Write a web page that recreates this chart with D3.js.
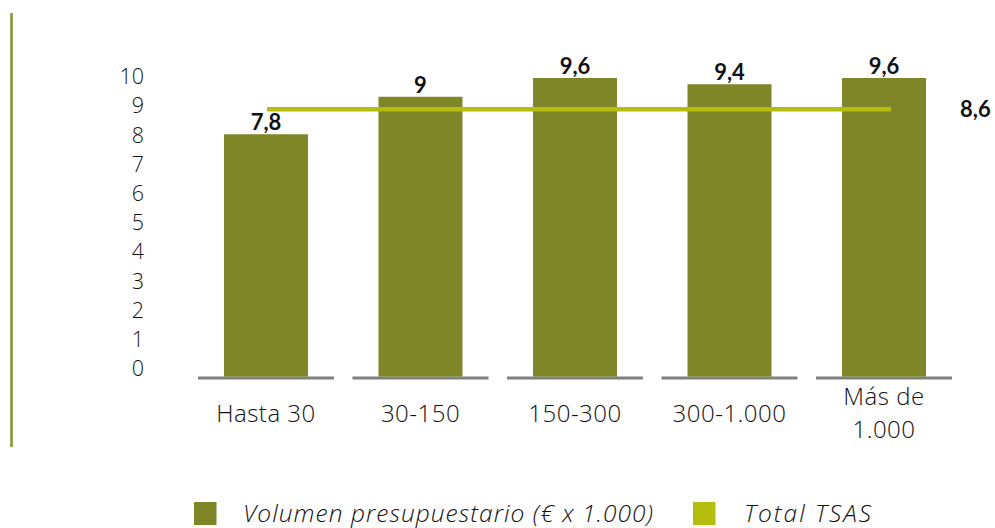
<!DOCTYPE html>
<html>
<head>
<meta charset="utf-8">
<script src="https://cdn.jsdelivr.net/npm/d3@7"></script>
<style>
  html, body { margin: 0; padding: 0; background: #ffffff; }
  svg { display: block; font-family: "Open Sans", Lato, sans-serif; }
</style>
</head>
<body>
<svg id="chart" width="995" height="528"></svg>
<script>
const categories = [["Hasta 30"], ["30-150"], ["150-300"], ["300-1.000"], ["Más de", "1.000"]];
const barValues = [7.8, 9, 9.6, 9.4, 9.6];
const barLabels = ["7,8", "9", "9,6", "9,4", "9,6"];
const totalValue = 8.6;
const totalLabel = "8,6";
const yTicks = [0, 1, 2, 3, 4, 5, 6, 7, 8, 9, 10];
const legendItems = ["Volumen presupuestario (€ x 1.000)", "Total TSAS"];

const barColor = "#7f8627";
const lineColor = "#b5bd0e";
const baseColor = "#808080";
const frameColor = "#8b9a3a";
const lightFont = "'Open Sans', Lato, sans-serif";
const boldFont = "Lato, 'Open Sans', sans-serif";
const textColor = "#111";

const svg = d3.select("#chart");
const keys = categories.map(c => c.join(" "));

const x = d3.scaleBand().domain(keys).range([198, 952]).paddingInner(0.12).paddingOuter(0);
const y = d3.scaleLinear().domain([0, 10]).range([378, 65.5]);
const yLabel = d3.scaleLinear().domain([0, 10]).range([368, 76]);
const barW = x.bandwidth() * 84 / 136;

// left decorative rule
svg.append("line")
  .attr("x1", 11.5).attr("x2", 11.5).attr("y1", 13).attr("y2", 447)
  .attr("stroke", frameColor).attr("stroke-width", 2.7);

// y tick labels
const yAxis = d3.axisLeft(yLabel).tickValues(yTicks).tickSize(0).tickPadding(0).tickFormat(d3.format("d"));
const gy = svg.append("g").attr("transform", "translate(144,0)").call(yAxis);
gy.select(".domain").remove();
gy.selectAll("text")
  .attr("font-family", lightFont).attr("font-weight", 300)
  .attr("font-size", 21.5).attr("fill", textColor).attr("dy", "0.36em");

// baseline segments
svg.append("g").selectAll("line").data(keys).join("line")
  .attr("x1", d => x(d)).attr("x2", d => x(d) + x.bandwidth())
  .attr("y1", y(0)).attr("y2", y(0))
  .attr("stroke", baseColor).attr("stroke-width", 2.8);

// bars
svg.append("g").selectAll("rect").data(barValues).join("rect")
  .attr("x", (d, i) => x(keys[i]) + x.bandwidth() / 2 - barW / 2)
  .attr("width", barW)
  .attr("y", d => y(d))
  .attr("height", d => y(0) - 1.4 - y(d))
  .attr("fill", barColor);

// total line
const firstC = x(keys[0]) + x.bandwidth() / 2;
const lastC = x(keys[keys.length - 1]) + x.bandwidth() / 2;
svg.append("line")
  .attr("x1", firstC + 1).attr("x2", lastC + 7)
  .attr("y1", y(totalValue)).attr("y2", y(totalValue))
  .attr("stroke", lineColor).attr("stroke-width", 4.7);

// bar value labels
svg.append("g").selectAll("text").data(barValues).join("text")
  .attr("x", (d, i) => x(keys[i]) + x.bandwidth() / 2)
  .attr("y", d => y(d) - 4)
  .attr("text-anchor", "middle")
  .attr("font-family", boldFont)
  .attr("font-size", 22).attr("font-weight", 700).attr("fill", "#111")
  .text((d, i) => barLabels[i]);

// total label
svg.append("text")
  .attr("x", 960).attr("y", y(totalValue) + 7.5)
  .attr("font-family", boldFont)
  .attr("font-size", 22).attr("font-weight", 700).attr("fill", "#111")
  .text(totalLabel);

// category labels
const catG = svg.append("g").selectAll("text").data(categories).join("text")
  .attr("x", (d, i) => x(keys[i]) + x.bandwidth() / 2)
  .attr("y", d => d.length === 1 ? 422 : 405)
  .attr("text-anchor", "middle")
  .attr("font-family", lightFont).attr("font-weight", 300)
  .attr("font-size", 24).attr("letter-spacing", 0.5).attr("fill", textColor);
catG.selectAll("tspan").data(d => d).join("tspan")
  .attr("x", function() { return d3.select(this.parentNode).attr("x"); })
  .attr("dy", (d, i) => i === 0 ? 0 : 33)
  .text(d => d);

// legend
const legendX = [194, 693];
const legendWidths = [410, 127];
const legendColors = [barColor, lineColor];
const lg = svg.append("g").selectAll("g").data(legendItems).join("g")
  .attr("transform", (d, i) => `translate(${legendX[i]},502)`);
lg.append("rect").attr("width", 22.5).attr("height", 23).attr("fill", (d, i) => legendColors[i]);
lg.append("text")
  .attr("x", (d, i) => i === 0 ? 49 : 51).attr("y", 20)
  .attr("font-family", lightFont).attr("font-weight", 300)
  .attr("font-size", 24.5).attr("font-style", "italic").attr("fill", textColor)
  .attr("textLength", (d, i) => legendWidths[i]).attr("lengthAdjust", "spacing")
  .text(d => d);
</script>
</body>
</html>
